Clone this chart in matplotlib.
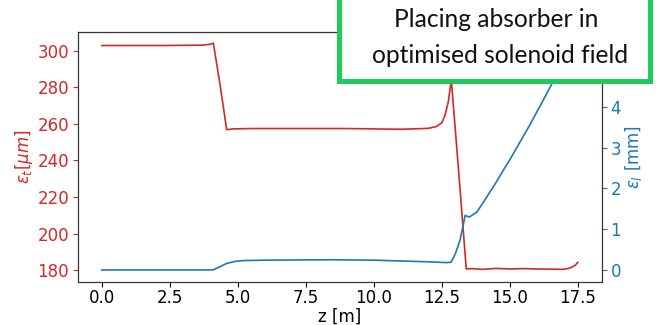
"""
흡수체 배치 후 emittance 변화 (transverse / longitudinal) 그래프
"""
import matplotlib
matplotlib.use('Agg')
import matplotlib.pyplot as plt
from matplotlib.patches import Rectangle

# transverse emittance (red, left axis)
z_t = [0, 1, 2, 3, 3.7, 4.0, 4.1, 4.35, 4.59, 4.83, 5.5, 7, 9, 11, 12.0,
       12.3, 12.5, 12.62, 12.74, 12.85, 13.12, 13.4, 13.6, 14, 14.5, 15,
       15.5, 16, 16.5, 16.96, 17.2, 17.4, 17.5]
eps_t = [302.8, 302.8, 302.8, 302.9, 303.0, 303.5, 304.1, 281, 256.8, 257.2,
         257.4, 257.4, 257.4, 257.0, 257.5, 258.5, 260.5, 264.8, 272, 284,
         234, 180.6, 180.8, 180.4, 180.9, 180.6, 180.8, 180.6, 180.5, 180.4,
         181.0, 182.5, 184.2]

# longitudinal emittance (blue, right axis)
z_l = [0, 2, 4.08, 4.35, 4.59, 4.9, 5.19, 6, 8.39, 10, 10.97, 12, 12.68,
       12.84, 13.0, 13.17, 13.3, 13.36, 13.45, 13.52, 13.79, 14.0, 14.25,
       14.5, 14.75, 15.0, 15.25, 15.5, 15.75, 16.0, 16.25, 16.5, 16.75,
       17.0, 17.25, 17.5]
eps_l = [0, 0, 0, 0.08, 0.16, 0.21, 0.23, 0.24, 0.25, 0.24, 0.22, 0.2, 0.18,
         0.19, 0.4, 0.73, 1.14, 1.34, 1.31, 1.30, 1.42, 1.63, 1.89, 2.15,
         2.43, 2.70, 2.99, 3.28, 3.57, 3.88, 4.19, 4.50, 4.83, 5.16, 5.49,
         5.83]

x_ticks = [0, 2.5, 5, 7.5, 10, 12.5, 15, 17.5]
t_ticks = [180, 200, 220, 240, 260, 280, 300]
l_ticks = [0, 1, 2, 3, 4]

RED = '#d62728'
BLUE = '#1f77b4'
FS = 12

fig = plt.figure(figsize=(6.56, 3.25), dpi=100)
ax = fig.add_axes([0.119, 0.133, 0.798, 0.768])
ax2 = ax.twinx()

ax.plot(z_t, eps_t, color=RED, lw=1.2)
ax2.plot(z_l, eps_l, color=BLUE, lw=1.2)

ax.set_xlim(-0.875, 18.375)
ax.set_ylim(173.6, 310.1)
ax2.set_ylim(-0.29, 5.83)

ax.set_xticks(x_ticks)
ax.set_yticks(t_ticks)
ax2.set_yticks(l_ticks)
ax.tick_params(axis='x', labelsize=FS, pad=2)
ax.tick_params(axis='y', labelsize=FS, colors=RED, pad=3)
ax2.tick_params(axis='y', labelsize=FS, colors=BLUE, pad=3)
for a in (ax, ax2):
    for s in a.spines.values():
        s.set_color('#333333')

ax.set_xlabel('z [m]', fontsize=FS, labelpad=0)
ax.set_ylabel(r'$\epsilon_t [\mu m]$', fontsize=FS, color=RED, labelpad=2)
ax2.set_ylabel(r'$\epsilon_l$ [mm]', fontsize=FS, color=BLUE, labelpad=1)

# 초록 박스 + 설명 텍스트
box = Rectangle((339 / 656, 1 - 80.5 / 325), 311 / 656, 0.4,
                transform=fig.transFigure, facecolor='white',
                edgecolor='#1fcc5b', lw=3.6, zorder=10, clip_on=False)
fig.add_artist(box)
fig.text(496 / 656, 1 - 27 / 325, 'Placing absorber in', fontsize=17.7,
         family='Lato', ha='center', va='baseline', color='#111111',
         zorder=11)
fig.text(500 / 656, 1 - 63 / 325, 'optimised solenoid field', fontsize=17.7,
         family='Lato', ha='center', va='baseline', color='#111111',
         zorder=11)

fig.savefig('out.png', dpi=100)
